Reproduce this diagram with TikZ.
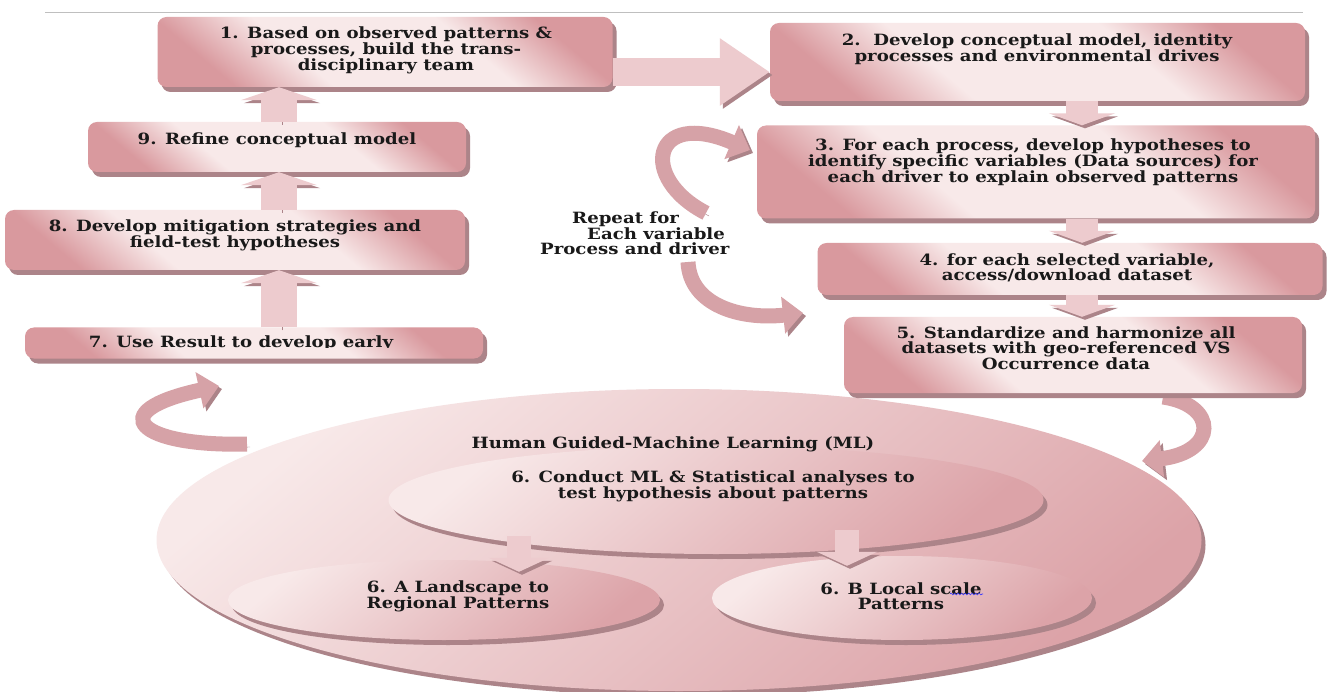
\documentclass[tikz,border=0pt]{standalone}
\usepackage{fontspec}
\setmainfont{DejaVu Serif}[FakeStretch=1.17]
\usetikzlibrary{shapes.geometric,shadows,arrows.meta,calc,decorations.pathmorphing}
\definecolor{rose}{HTML}{D9999E}
\definecolor{pale}{HTML}{F8E9E9}
\definecolor{shad}{HTML}{AC8489}
\definecolor{arrowc}{HTML}{EDCBCE}
\definecolor{curvc}{HTML}{D6A2A7}
\definecolor{ellrose}{HTML}{DCA3A8}
\pgfdeclareverticalshading{boxshade}{100bp}{color(0bp)=(rose); color(25bp)=(rose); color(38bp)=(pale); color(62bp)=(pale); color(75bp)=(rose); color(100bp)=(rose)}
\tikzset{
  boxs/.style={rectangle, rounded corners=9pt, inner sep=0pt,
    shading=boxshade, shading angle=-40,
    drop shadow={shadow xshift=4pt, shadow yshift=-5pt, fill=shad, opacity=1}},
  ells/.style={ellipse, inner sep=0pt,
    top color=pale, bottom color=ellrose, shading angle=40,
    drop shadow={shadow xshift=4pt, shadow yshift=-5pt, fill=shad, opacity=1}},
  txt/.style={font=\bfseries\fontsize{15.5}{14.5}\selectfont, align=center, inner sep=0pt, text=black!90},
  blk/.style={draw=arrowc, preaction={draw=shad, transform canvas={xshift=3pt,yshift=-3pt}}},
  carrow/.style={line width=15pt, draw=curvc, -{Triangle[width=36pt,length=20pt]},
    preaction={draw=shad, transform canvas={xshift=3pt,yshift=-3pt}}}
}
\begin{document}
\begin{tikzpicture}[x=1pt,y=-1pt]
\useasboundingbox (0,0) rectangle (1335,692);
\fill[white] (0,0) rectangle (1335,692);
\draw[black!25, line width=0.8pt] (45,12) -- (1303,12);

% curved arrows
\coordinate (r1s) at (706,213); \coordinate (r1e) at (750,150);
\draw[carrow] (r1s) .. controls (638,178) and (652,108) .. (r1e);
\coordinate (r2s) at (688,262); \coordinate (r2e) at (803,313);
\draw[carrow] (r2s) .. controls (690,305) and (740,320) .. (r2e);
\coordinate (r3s) at (1163,397); \coordinate (r3e) at (1142,461);
\draw[carrow] (r3s) .. controls (1218,405) and (1218,452) .. (r3e);
\coordinate (r4s) at (247,444); \coordinate (r4e) at (219,386);
\draw[carrow] (r4s) .. controls (140,447) and (100,412) .. (r4e);

% ellipses
\node[ells, minimum width=1045pt, minimum height=302pt] (big) at (679,540) {};
\node[ells, minimum width=655pt, minimum height=108pt] (e6) at (716,500) {};
\node[ells, minimum width=432pt, minimum height=80pt] (e6a) at (444,600) {};
\node[ells, minimum width=380pt, minimum height=84pt] (e6b) at (902,598) {};
\coordinate (sa) at (519,536);
\coordinate (sb) at (847,530);
\draw[blk, line width=24pt, -{Triangle[width=60pt,length=14pt]}] (sa) -- ([yshift=-12pt]sa |- e6a.north);
\draw[blk, line width=24pt, -{Triangle[width=60pt,length=14pt]}] (sb) -- ([yshift=-10pt]sb |- e6b.north);

\node[txt] (tml) at (673,444) {Human Guided-Machine Learning (ML)};
\node[txt] (t6) at (713,486) {6. Conduct ML \& Statistical analyses to\\test hypothesis about patterns};
\node[txt] (t6a) at (458,596) {6. A Landscape to\\Regional Patterns};
\node[txt] (t6b) at (901,596) {6. B Local scale\\Patterns};
\draw[blue!80, line width=0.6pt, decorate, decoration={snake, amplitude=0.9pt, segment length=3.5pt}] (950,594) -- (983,594);

% boxes
\node[boxs, minimum width=455pt, minimum height=70pt] (b1) at (385,52) {};
\node[boxs, minimum width=535pt, minimum height=78pt] (b2) at (1037.5,62) {};
\node[boxs, minimum width=558pt, minimum height=93pt] (b3) at (1036,172) {};
\node[boxs, minimum width=505pt, minimum height=52pt] (b4) at (1070,269) {};
\node[boxs, minimum width=458pt, minimum height=76pt] (b5) at (1073,355) {};
\node[boxs, minimum width=378pt, minimum height=50pt] (b9) at (277,147) {};
\node[boxs, minimum width=460pt, minimum height=60pt] (b8) at (235,240) {};
\node[boxs, minimum width=458pt, minimum height=31pt] (b7) at (254,343) {};

% block arrows
\draw[blk, line width=28pt, -{Triangle[width=64pt,length=50pt]}] ([yshift=-20pt]b1.east) -- ([yshift=-20pt]b1.east -| b2.west);
\draw[blk, line width=32pt, -{Triangle[width=66pt,length=12pt]}] (b2.south -| 1082,0) -- (b3.north -| 1082,0);
\draw[blk, line width=32pt, -{Triangle[width=66pt,length=12pt]}] (b3.south -| 1082,0) -- (b4.north -| 1082,0);
\draw[blk, line width=32pt, -{Triangle[width=66pt,length=12pt]}] (b4.south -| 1082,0) -- (b5.north -| 1082,0);
\draw[blk, line width=36pt, -{Triangle[width=76pt,length=13pt]}] (b7.north -| 279,0) -- (b8.south -| 279,0);
\draw[blk, line width=36pt, -{Triangle[width=76pt,length=13pt]}] (b8.north -| 279,0) -- (b9.south -| 279,0);
\draw[blk, line width=36pt, -{Triangle[width=76pt,length=13pt]}] (b9.north -| 279,0) -- (b1.south -| 279,0);

% texts
\node[txt] (t1) at (386,50) {1. Based on observed patterns \&\\processes, build the trans-\\disciplinary team};
\node[txt] (t2) at (1037,49) {2.\ \ Develop conceptual model, identity\\processes and environmental drives};
\node[txt] (t3) at (1033,162) {3. For each process, develop hypotheses to\\identify specific variables (Data sources) for\\each driver to explain observed patterns};
\node[txt] (t4) at (1067,268) {4. for each selected variable,\\access/download dataset};
\node[txt] (t5) at (1066,348.5) {5. Standardize and harmonize all\\datasets with geo-referenced VS\\Occurrence data};
\node[txt] (t9) at (277,140) {9. Refine conceptual model};
\node[txt] (t8) at (235,235) {8. Develop mitigation strategies and\\field-test hypotheses};
\begin{scope}
\clip (20,320) rectangle (490,347);
\node[txt, anchor=base] (t7) at (241,348) {7. Use Result to develop early};
\end{scope}
\node[txt, align=left, anchor=west] (trep) at (540,233) {\hspace*{32pt}Repeat for\\\hspace*{47pt}Each variable\\Process and driver};
\end{tikzpicture}
\end{document}
